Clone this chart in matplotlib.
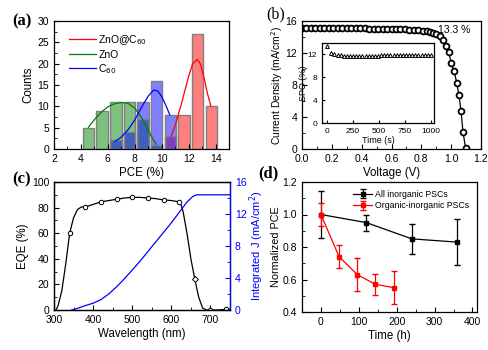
import matplotlib
matplotlib.use('Agg')
import matplotlib.pyplot as plt
from matplotlib.ticker import MultipleLocator

plt.rcParams['font.family'] = ['Liberation Sans', 'DejaVu Sans']
plt.rcParams['xtick.direction'] = 'in'
plt.rcParams['ytick.direction'] = 'in'
plt.rcParams['xtick.labelsize'] = 7.5
plt.rcParams['ytick.labelsize'] = 7.5
plt.rcParams['axes.labelsize'] = 8.3
plt.rcParams['axes.linewidth'] = 0.9

# (a) PCE histograms
zno_x = [4.55, 5.57, 6.6, 7.6, 8.62, 9.63]
zno_n = [5, 9, 11, 11, 7, 1]
c60_x = [6.6, 7.6, 8.62, 9.63, 10.65]
c60_n = [2, 4, 11, 16, 8]
znoc60_x = [10.65, 11.67, 12.68, 13.7]
znoc60_n = [3, 8, 27, 10]

zno_fit_x = [4.56, 5.0, 5.5, 6.0, 6.5, 7.0, 7.5, 8.0, 8.5, 9.0, 9.3, 9.6]
zno_fit_y = [5.1, 6.9, 8.6, 9.9, 10.6, 10.9, 10.7, 9.6, 7.4, 4.4, 2.6, 1.1]
c60_fit_x = [6.55, 7.0, 7.5, 8.0, 8.5, 9.0, 9.4, 9.7, 10.0, 10.3, 10.6]
c60_fit_y = [1.8, 2.8, 4.5, 6.8, 9.8, 12.4, 13.8, 13.6, 12.3, 10.3, 8.0]
red_fit_x = [10.7, 11.0, 11.5, 12.0, 12.3, 12.65, 12.9, 13.2, 13.4, 13.65]
red_fit_y = [3.0, 5.5, 11.0, 17.0, 20.0, 21.0, 19.8, 16.0, 13.0, 10.1]

# (b) J-V curve
jv_v = [0.00, 0.03, 0.06, 0.09, 0.12, 0.15, 0.18, 0.21, 0.24, 0.27, 0.30, 0.33,
        0.36, 0.39, 0.42, 0.45, 0.48, 0.51, 0.54, 0.57, 0.60, 0.63, 0.66, 0.69,
        0.72, 0.75, 0.78, 0.81, 0.84, 0.86, 0.88, 0.90, 0.925, 0.943, 0.963,
        0.983, 1.0, 1.019, 1.037, 1.052, 1.066, 1.079, 1.097]
jv_j = [15.15, 15.15, 15.15, 15.14, 15.14, 15.13, 15.13, 15.12, 15.12, 15.11,
        15.10, 15.10, 15.09, 15.08, 15.07, 15.06, 15.05, 15.04, 15.03, 15.02,
        15.0, 14.98, 14.96, 14.94, 14.91, 14.88, 14.85, 14.8, 14.72, 14.65,
        14.55, 14.4, 14.16, 13.6, 12.9, 12.1, 10.8, 9.75, 8.3, 6.75, 4.75,
        2.16, 0.1]

# inset: stabilized power output
spo_t = [0, 40, 70, 100, 130, 160, 190, 220, 250, 280, 310, 340, 370, 400,
         430, 460, 490, 520, 550, 580, 610, 640, 670, 700, 730, 760, 790,
         820, 850, 880, 910, 940, 970, 1000]
spo_v = [13.4, 12.2, 12.0, 11.9, 11.85, 11.8, 11.8, 11.75, 11.75, 11.7, 11.7,
         11.7, 11.75, 11.75, 11.8, 11.8, 11.8, 11.85, 11.85, 11.85, 11.85,
         11.9, 11.9, 11.9, 11.9, 11.9, 11.9, 11.9, 11.9, 11.9, 11.9, 11.9,
         11.9, 11.9]

# (c) EQE and integrated current
eqe_wl = [305, 310, 320, 330, 340, 350, 360, 370, 380, 400, 420, 440, 460,
          480, 500, 520, 540, 560, 580, 600, 620, 625, 630, 640, 650, 660,
          670, 680, 690, 700, 720, 740, 750]
eqe_v = [0, 3, 15, 36, 60, 72, 78.5, 80.5, 80.5, 82.5, 84.5, 85.5, 86.5, 87.5,
         88, 88, 87.5, 87, 86, 85.5, 84.5, 82, 77, 60, 40, 24, 10, 1.5, 0, 0,
         0, 0.5, 0.5]
eqe_mark_wl = [340, 380, 420, 460, 500, 540, 580, 620, 700, 740]
eqe_mark_v = [60, 80.5, 84.5, 86.5, 88, 87.5, 86, 84.5, 0, 0.5]
intj_wl = [345, 360, 380, 400, 420, 440, 460, 480, 500, 520, 540, 560, 580,
           600, 620, 640, 655, 665, 750]
intj_v = [0, 0.2, 0.55, 0.85, 1.3, 2.0, 2.9, 3.9, 5.0, 6.1, 7.3, 8.5, 9.7,
          10.9, 12.2, 13.5, 14.2, 14.4, 14.4]

# (d) stability
inorg_t = [0, 120, 240, 360]
inorg_pce = [1.0, 0.95, 0.85, 0.83]
inorg_err = [0.145, 0.05, 0.09, 0.14]
org_t = [0, 48, 96, 144, 192]
org_pce = [1.0, 0.74, 0.63, 0.57, 0.55]
org_err = [0.072, 0.07, 0.1, 0.065, 0.1]

W, H = 489, 350
fig = plt.figure(figsize=(W / 100, H / 100), dpi=100)


def box(l, t, r, b):
    return [l / W, 1 - b / H, (r - l) / W, (b - t) / H]


def letter(x, y, s, weight='bold', size=12):
    fig.text(x / W, 1 - y / H, s, family=['Liberation Serif', 'DejaVu Serif'],
             fontsize=size, weight=weight, va='center', ha='left')


# ---- (a)
ax = fig.add_axes(box(54, 21, 229, 149))
ax.bar(znoc60_x, znoc60_n, width=0.85, color='red', alpha=0.5,
       edgecolor='none')
ax.bar(zno_x, zno_n, width=0.85, color='green', alpha=0.5, edgecolor='none')
ax.bar(c60_x, c60_n, width=0.85, color='blue', alpha=0.5, edgecolor='none')
for xs, ns in [(znoc60_x, znoc60_n), (zno_x, zno_n), (c60_x, c60_n)]:
    ax.bar(xs, ns, width=0.85, color='none', edgecolor='#808080', lw=1.0)
ax.plot(red_fit_x, red_fit_y, color='red', lw=0.9, label='ZnO@C$_{60}$')
ax.plot(zno_fit_x, zno_fit_y, color='green', lw=0.9, label='ZnO')
ax.plot(c60_fit_x, c60_fit_y, color='blue', lw=0.9, label='C$_{60}$')
ax.set_xlim(2, 15)
ax.set_ylim(0, 30)
ax.xaxis.set_major_locator(MultipleLocator(2))
ax.xaxis.set_minor_locator(MultipleLocator(1))
ax.yaxis.set_major_locator(MultipleLocator(5))
ax.yaxis.set_minor_locator(MultipleLocator(2.5))
ax.set_xlabel('PCE (%)', labelpad=2)
ax.set_ylabel('Counts', labelpad=2)
ax.legend(loc='upper left', frameon=False, fontsize=7.5, handlelength=2.6,
          handletextpad=0.2, labelspacing=0.25, borderaxespad=0.4,
          bbox_to_anchor=(0.04, 0.97))
letter(12, 21, '(a)')

# ---- (b)
ax = fig.add_axes(box(302, 21, 481, 149))
ax.plot(jv_v, jv_j, color='black', lw=0.9, marker='o', ms=4.2,
        mfc='white', mec='black', mew=1.3)
ax.text(0.915, 14.9, '13.3 %', fontsize=7.5, va='center', ha='left')
ax.set_xlim(0, 1.2)
ax.set_ylim(0, 16)
ax.xaxis.set_major_locator(MultipleLocator(0.2))
ax.xaxis.set_minor_locator(MultipleLocator(0.1))
ax.yaxis.set_major_locator(MultipleLocator(4))
ax.yaxis.set_minor_locator(MultipleLocator(2))
ax.set_xlabel('Voltage (V)', labelpad=2)
ax.set_ylabel('Current Density (mA/cm$^2$)', fontsize=7.4, labelpad=0.5)
letter(266, 14, '(b)', weight='normal', size=11.5)

ins = fig.add_axes(box(322, 43, 434, 123))
ins.plot(spo_t, spo_v, ls='none', marker='^', ms=2.8, mfc='white',
         mec='black', mew=0.7)
ins.set_xlim(-50, 1030)
ins.set_ylim(0, 14)
ins.xaxis.set_major_locator(MultipleLocator(250))
ins.yaxis.set_major_locator(MultipleLocator(4))
ins.tick_params(labelsize=6, length=2.5)
ins.set_xlabel('Time (s)', fontsize=6.5, labelpad=1)
ins.set_ylabel('SPO (%)', fontsize=6.5, labelpad=0)

# ---- (c)
ax = fig.add_axes(box(54, 182, 230, 310))
ax.plot(eqe_wl, eqe_v, color='black', lw=0.9)
ax.plot(eqe_mark_wl, eqe_mark_v, ls='none', marker='o', ms=3.2,
        mfc='white', mec='black', mew=0.7)
ax.plot([660], [24], ls='none', marker='D', ms=3, mfc='white', mec='black',
        mew=0.7)
ax.set_xlim(300, 750)
ax.set_ylim(0, 100)
ax.xaxis.set_major_locator(MultipleLocator(100))
ax.xaxis.set_minor_locator(MultipleLocator(50))
ax.yaxis.set_major_locator(MultipleLocator(20))
ax.yaxis.set_minor_locator(MultipleLocator(10))
ax.set_xlabel('Wavelength (nm)', labelpad=2)
ax.set_ylabel('EQE (%)', labelpad=2)
ax2 = ax.twinx()
ax2.plot(intj_wl, intj_v, color='blue', lw=0.9)
ax2.set_ylim(0, 16)
ax2.yaxis.set_major_locator(MultipleLocator(4))
ax2.yaxis.set_minor_locator(MultipleLocator(2))
ax2.spines['right'].set_color('blue')
ax2.tick_params(axis='y', which='both', colors='blue', direction='in')
ax2.set_ylabel('Integrated J (mA/cm$^2$)', color='blue', fontsize=8,
               labelpad=0.5)
letter(12, 179, '(c)')

# ---- (d)
ax = fig.add_axes(box(302, 182, 477, 312))
ax.errorbar(inorg_t, inorg_pce, yerr=inorg_err, color='black', lw=0.9,
            marker='s', ms=3.2, capsize=2.5, elinewidth=0.9,
            label='All inorganic PSCs')
ax.errorbar(org_t, org_pce, yerr=org_err, color='red', lw=0.9,
            marker='s', ms=3.2, capsize=2.5, elinewidth=0.9,
            label='Organic-inorganic PSCs')
ax.set_xlim(-50, 412)
ax.set_ylim(0.4, 1.2)
ax.xaxis.set_major_locator(MultipleLocator(100))
ax.xaxis.set_minor_locator(MultipleLocator(50))
ax.yaxis.set_major_locator(MultipleLocator(0.2))
ax.yaxis.set_minor_locator(MultipleLocator(0.1))
ax.set_xlabel('Time (h)', labelpad=2)
ax.set_ylabel('Normalized PCE', fontsize=7.8, labelpad=1)
ax.legend(loc='upper right', frameon=False, fontsize=6.3, handlelength=2.2,
          handletextpad=0.3, labelspacing=0.3, borderaxespad=0.5)
letter(258, 173, '(d)')

fig.savefig('out.png', dpi=100)
